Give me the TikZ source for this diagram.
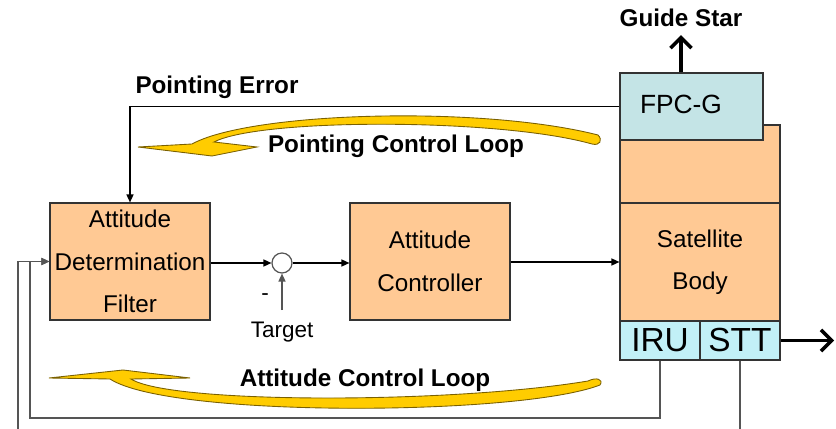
\documentclass[tikz,border=0pt]{standalone}
\usepackage{fontspec}
\setmainfont{Liberation Sans}
\usetikzlibrary{arrows.meta, positioning, calc}
\definecolor{cpeach}{HTML}{FFC994}
\definecolor{cfpc}{HTML}{C4E4E6}
\definecolor{csensor}{HTML}{C2F0F7}
\definecolor{cyellow}{HTML}{FFCC00}
\definecolor{cedge}{HTML}{7A6000}
\definecolor{cgrey}{HTML}{555555}
\tikzset{
  every picture/.style={line width=0.7pt},
  box/.style={draw=black!80, fill=#1, align=center, inner sep=0pt, font=\fontsize{13.8}{24.2}\selectfont},
  box/.default=cpeach,
  arrow/.style={-{Triangle[length=4.5pt, width=4pt]}, draw=black},
  back/.style={arrow, draw=cgrey},
  bigarrow/.style={-{Straight Barb[length=6pt, width=12pt]}, line width=2pt},
  title/.style={font=\bfseries\fontsize{13.8}{16}\selectfont},
  note/.style={font=\fontsize{12.8}{15}\selectfont},
  yloop/.style={fill=cyellow, draw=cedge, line width=0.5pt},
}
\begin{document}
\begin{tikzpicture}[x=0.02cm, y=-0.02cm]
  \clip (0,0) rectangle (836,429);
  % blocks
  \node[box, minimum width=3.2cm, minimum height=2.34cm] (adf) at (130,261.5) {Attitude\\Determination\\Filter};
  \node[draw=cgrey, fill=white, circle, minimum size=0.4cm, inner sep=0pt] (sum) at (282,263) {};
  \node[box, minimum width=3.2cm, minimum height=2.34cm] (ctrl) at (430,261.5) {Attitude\\Controller};
  \node[box, minimum width=3.2cm, minimum height=1.56cm] (bodytop) at (700,164) {};
  \node[box, minimum width=3.2cm, minimum height=2.36cm] (sat) at (700,262) {Satellite\\Body};
  \node[box=cfpc, minimum width=2.86cm, minimum height=1.34cm, text width=2.06cm, inner xsep=0.4cm, align=left, font=\fontsize{15}{18}\selectfont] (fpc) at (691.5,106.5) {\raisebox{3pt}{FPC-G}};
  \node[box=csensor, minimum width=1.6cm, minimum height=0.78cm, font=\fontsize{19}{22}\selectfont] (iru) at (660,340.5) {IRU};
  \node[box=csensor, minimum width=1.6cm, minimum height=0.78cm, font=\fontsize{19}{22}\selectfont] (stt) at (740,340.5) {STT};
  % labels
  \node[title] (guide) at (681,18) {Guide Star};
  \node[title] (perr) at (217,87) {Pointing Error};
  \node[note] (target) at (282,332) {Target};
  \node[note] (minus) at (265,297) {-};
  \coordinate (tgt) at (282,310);
  \coordinate (out) at (834,340.5);
  \coordinate (iruc) at (30,418);
  \coordinate (sttc) at (18,440);
  % signal flow
  \draw[arrow] (adf.east |- sum) -- (sum.west);
  \draw[arrow] (sum.east) -- (sum -| ctrl.west);
  \draw[arrow] (ctrl.east |- sat) -- (sat.west);
  \draw[back] (tgt) -- (sum.south);
  \draw[arrow] (fpc.west) -| (adf.north);
  \draw[back] (iru.south) |- (iruc) |- (adf.west);
  \draw[back] (stt.south) |- (sttc) |- (adf.west);
  \draw[bigarrow, shorten >=1pt] (guide |- fpc.north) -- (guide.south);
  \draw[bigarrow] (stt.east) -- (out);
  % loop arrows
  \draw[yloop] (138,147) -- (192,144) .. controls (250,112) and (480,105) .. (598,135)
    .. controls (603,140) and (600,146) .. (592,144) .. controls (500,118) and (260,118) .. (214,142)
    -- (257,147) -- (212,156) -- cycle;
  \draw[yloop] (49,378) -- (123,370) -- (190,378) -- (131,379) .. controls (170,404) and (450,404) .. (588,381)
    .. controls (596,377) and (604,379) .. (600,385) .. controls (520,416) and (170,418) .. (110,379) -- cycle;
  \node[title] (pcl) at (396,146) {Pointing Control Loop};
  \node[title] (acl) at (365,380) {Attitude Control Loop};
\end{tikzpicture}
\end{document}
